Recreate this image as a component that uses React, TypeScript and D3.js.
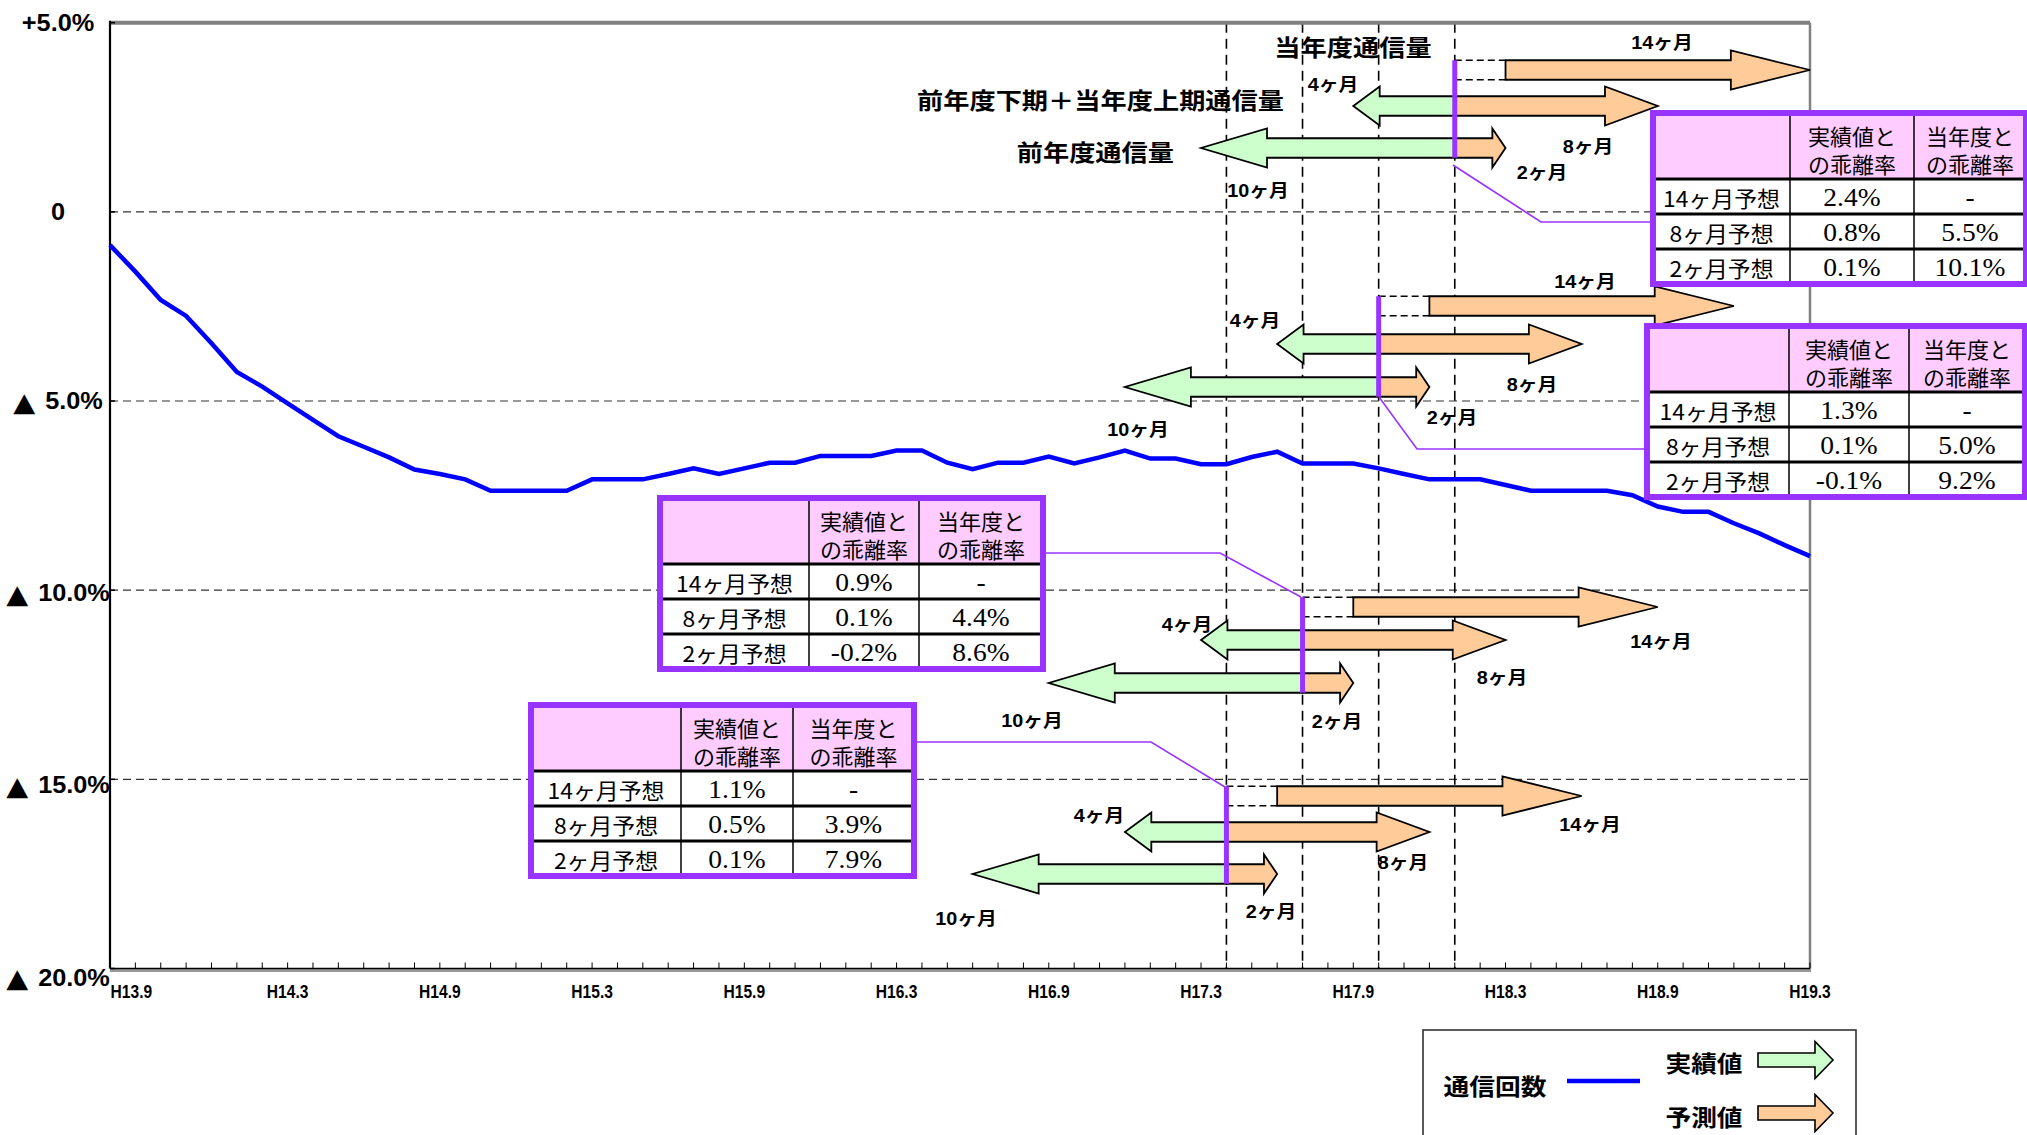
import React from "react";
import * as d3 from "d3";

const W = 2027;
const H = 1135;

// monthly series, index 0 = H13.8 ... index 67 = H19.3 (通信回数, % vs previous year)
const commValues = [
  -0.88, -1.58, -2.33, -2.75, -3.47, -4.23, -4.62, -5.06, -5.5, -5.93,
  -6.21, -6.49, -6.81, -6.93, -7.07, -7.37, -7.37, -7.37, -7.37, -7.07,
  -7.07, -7.07, -6.93, -6.78, -6.93, -6.78, -6.63, -6.63, -6.45, -6.45,
  -6.45, -6.31, -6.31, -6.63, -6.8, -6.63, -6.63, -6.47, -6.65, -6.49,
  -6.31, -6.52, -6.52, -6.67, -6.67, -6.48, -6.34, -6.65, -6.65, -6.65,
  -6.78, -6.93, -7.07, -7.07, -7.07, -7.22, -7.37, -7.37, -7.37, -7.37,
  -7.49, -7.79, -7.93, -7.93, -8.23, -8.5, -8.81, -9.1,
];

const xTickLabels = ["H13.9", "H14.3", "H14.9", "H15.3", "H15.9", "H16.3", "H16.9", "H17.3", "H17.9", "H18.3", "H18.9", "H19.3"];
const xTickIndex = [1, 7, 13, 19, 25, 31, 37, 43, 49, 55, 61, 67];
const yTicks = [5, 0, -5, -10, -15, -20];
const yTickMarks = ["", "", "▲", "▲", "▲", "▲"];
const yTickLabels = ["+5.0%", "0", "5.0%", "10.0%", "15.0%", "20.0%"];
const gridValues = [0, -5, -10, -15];

// forecast start months (index): H18.1, H17.10, H17.7, H17.4
const forecastStarts = [53, 50, 47, 44];
const fwdLong = 14;
const fwdLongDashed = 2;
const fwdMid = 8;
const fwdShort = 2;
const backMid = 4;
const backLong = 10;
const monthLabels = ["14ヶ月", "4ヶ月", "8ヶ月", "2ヶ月", "10ヶ月"];

const rowLabels = ["14ヶ月予想", "8ヶ月予想", "2ヶ月予想"];
const headLine1 = ["実績値と", "当年度と"];
const headLine2 = ["の乖離率", "の乖離率"];
const diffActual = [
  ["2.4%", "0.8%", "0.1%"],
  ["1.3%", "0.1%", "-0.1%"],
  ["0.9%", "0.1%", "-0.2%"],
  ["1.1%", "0.5%", "0.1%"],
];
const diffYear = [
  ["-", "5.5%", "10.1%"],
  ["-", "5.0%", "9.2%"],
  ["-", "4.4%", "8.6%"],
  ["-", "3.9%", "7.9%"],
];

const phraseLabels = ["当年度通信量", "前年度下期＋当年度上期通信量", "前年度通信量"];
const legendTitle = "通信回数";
const legendActual = "実績値";
const legendForecast = "予測値";

// ---- layout (pixels) ----
const groupRows = [
  [70, 106, 148],
  [306, 344, 387],
  [607, 640, 683],
  [796, 832, 874],
];
// label centers: 14, 4, 8, 2, 10
const groupLabelPos = [
  [[1662, 43], [1333, 85], [1588, 147], [1542, 173], [1258, 191]],
  [[1585, 282], [1255, 321], [1532, 385], [1452, 418], [1138, 430]],
  [[1661, 642], [1187, 625], [1502, 678], [1337, 722], [1032, 721]],
  [[1590, 825], [1099, 816], [1403, 863], [1271, 912], [966, 919]],
];
const tableLayout = [
  { x: 1653, y: 113, cols: [137, 124, 112] },
  { x: 1647, y: 326, cols: [142, 120, 116] },
  { x: 660, y: 498, cols: [149, 110, 124] },
  { x: 531, y: 705, cols: [150, 112, 121] },
];
const connectors = [
  [[1453, 165], [1541, 222], [1653, 222]],
  [[1379, 397], [1417, 449], [1647, 449]],
  [[1044, 553], [1220, 553], [1301, 597]],
  [[916, 742], [1151, 742], [1225, 787]],
];

const PURPLE = "#9933FF";
const GREEN = "#CCFFCC";
const ORANGE = "#FFCC99";
const PINK = "#FFCCFF";
const BLUE = "#0000FF";
const CJK = "'Noto Sans CJK JP', 'Liberation Sans', sans-serif";
const LAT = "'Liberation Sans', 'DejaVu Sans', 'Noto Sans CJK JP', sans-serif";
const SERIF = "'Liberation Serif', 'DejaVu Serif', serif";

function Txt(props: {
  x: number; y: number; children: any; size?: number; weight?: number | string;
  anchor?: string; sx?: number; family?: string; fill?: string;
}) {
  const { x, y, children, size = 22, weight = 700, anchor = "middle", sx = 1.12, family = CJK, fill = "#000" } = props;
  return (
    <text
      transform={`translate(${x},${y}) scale(${sx},1)`}
      fontSize={size}
      fontWeight={weight}
      textAnchor={anchor as any}
      dominantBaseline="central"
      fontFamily={family}
      fill={fill}
    >
      {children}
    </text>
  );
}

function arrowPath(x0: number, x1: number, cy: number, sh = 9.75, hh = 19.5, ratio = 0.26) {
  const dir = Math.sign(x1 - x0);
  const L = Math.abs(x1 - x0) * ratio;
  const xb = x1 - dir * L;
  const p = d3.path();
  p.moveTo(x0, cy - sh);
  p.lineTo(xb, cy - sh);
  p.lineTo(xb, cy - hh);
  p.lineTo(x1, cy);
  p.lineTo(xb, cy + hh);
  p.lineTo(xb, cy + sh);
  p.lineTo(x0, cy + sh);
  p.closePath();
  return p.toString();
}

function Table({ ti }: { ti: number }) {
  const L = tableLayout[ti];
  const headH = 66;
  const rowH = 35;
  const totalW = L.cols[0] + L.cols[1] + L.cols[2];
  const totalH = headH + rowH * 3;
  const cx = [L.x, L.x + L.cols[0], L.x + L.cols[0] + L.cols[1], L.x + totalW];
  const centers = [0, 1, 2].map((c) => (cx[c] + cx[c + 1]) / 2);
  return (
    <g>
      <rect x={L.x} y={L.y} width={totalW} height={totalH} fill="#fff" />
      <rect x={L.x} y={L.y} width={totalW} height={headH} fill={PINK} />
      {[1, 2].map((c) => (
        <line key={c} x1={cx[c]} x2={cx[c]} y1={L.y} y2={L.y + totalH} stroke="#000" strokeWidth={1.5} />
      ))}
      {[0, 1, 2].map((r) => (
        <line key={r} x1={L.x} x2={L.x + totalW} y1={L.y + headH + r * rowH} y2={L.y + headH + r * rowH} stroke="#000" strokeWidth={3} />
      ))}
      {[0, 1].map((c) => (
        <g key={c}>
          <Txt x={centers[c + 1]} y={L.y + 22} size={22} weight={400} sx={1.0}>{headLine1[c]}</Txt>
          <Txt x={centers[c + 1]} y={L.y + 50} size={22} weight={400} sx={1.0}>{headLine2[c]}</Txt>
        </g>
      ))}
      {rowLabels.map((lab, r) => {
        const cy = L.y + headH + r * rowH + rowH / 2 + 1;
        return (
          <g key={r}>
            <Txt x={centers[0]} y={cy} size={22} weight={400} sx={1.04}>{lab}</Txt>
            <Txt x={centers[1]} y={cy} size={25} weight={400} sx={1.1} family={SERIF}>{diffActual[ti][r]}</Txt>
            <Txt x={centers[2]} y={cy} size={25} weight={400} sx={1.1} family={SERIF}>{diffYear[ti][r]}</Txt>
          </g>
        );
      })}
      <rect x={L.x} y={L.y} width={totalW} height={totalH} fill="none" stroke={PURPLE} strokeWidth={6} />
    </g>
  );
}

export default function App() {
  const x = d3.scaleLinear().domain([0, commValues.length - 1]).range([110, 1810]);
  const y = d3.scaleLinear().domain([5, -20]).range([22.7, 968.5]);
  const line = d3.line<number>().x((_, i) => x(i)).y((d) => y(d));
  const top = y(5);
  const bottom = y(-20);
  const left = x(0);
  const right = x(commValues.length - 1);

  return (
    <svg width={W} height={H} style={{ position: "fixed", left: 0, top: 0, background: "#fff" }}>
      <rect x={0} y={0} width={W} height={H} fill="#fff" />
      {/* grid */}
      {gridValues.map((v) => (
        <line key={v} x1={left} x2={right} y1={y(v)} y2={y(v)} stroke="#333" strokeWidth={1.2} strokeDasharray="8,5" />
      ))}
      {forecastStarts.map((m) => (
        <line key={m} x1={x(m)} x2={x(m)} y1={top} y2={bottom} stroke="#000" strokeWidth={1.6} strokeDasharray="10,6" />
      ))}
      {/* frame */}
      <line x1={left} x2={right} y1={top} y2={top} stroke="#808080" strokeWidth={4} />
      <line x1={right} x2={right} y1={top} y2={bottom} stroke="#808080" strokeWidth={2.5} />
      <line x1={left} x2={right + 1} y1={bottom + 1.5} y2={bottom + 1.5} stroke="#999" strokeWidth={4} />
      <line x1={left} x2={right} y1={bottom} y2={bottom} stroke="#000" strokeWidth={1.5} />
      <line x1={left} x2={left} y1={top - 2} y2={bottom} stroke="#000" strokeWidth={2.2} />
      {commValues.map((_, i) => (
        <line key={i} x1={x(i)} x2={x(i)} y1={bottom} y2={bottom - 6} stroke="#000" strokeWidth={1} />
      ))}
      {yTicks.map((v) => (
        <line key={v} x1={left} x2={left + 5} y1={y(v)} y2={y(v)} stroke="#000" strokeWidth={1.5} />
      ))}
      {/* y labels */}
      {yTicks.map((v, i) => (
        <Txt key={v} x={58} y={y(v) + (i > 2 ? (i - 2) * 3 : 0)} size={23} sx={1.1} family={LAT}>
          {yTickMarks[i] ? <tspan fontSize={26} fontFamily="'DejaVu Sans', sans-serif">{yTickMarks[i] + " "}</tspan> : null}
          {yTickLabels[i]}
        </Txt>
      ))}
      {/* x labels */}
      {xTickLabels.map((lab, i) => (
        <Txt key={lab} x={x(xTickIndex[i]) - (i === 0 ? 4 : 0)} y={991} size={19} sx={0.82} family={LAT}>{lab}</Txt>
      ))}
      {/* series */}
      <path d={line(commValues) || ""} fill="none" stroke={BLUE} strokeWidth={4.5} strokeLinejoin="miter" />

      {/* forecast arrow groups */}
      {forecastStarts.map((m, gi) => {
        const [r14, rMid, rBot] = groupRows[gi];
        const v = x(m);
        const sh = 9.75;
        const lp = groupLabelPos[gi];
        return (
          <g key={m}>
            <line x1={v} x2={x(m + fwdLongDashed)} y1={r14 - sh} y2={r14 - sh} stroke="#000" strokeWidth={1.6} strokeDasharray="7,4" />
            <line x1={v} x2={x(m + fwdLongDashed)} y1={r14 + sh} y2={r14 + sh} stroke="#000" strokeWidth={1.6} strokeDasharray="7,4" />
            <path d={arrowPath(x(m + fwdLongDashed), x(m + fwdLong), r14)} fill={ORANGE} stroke="#000" strokeWidth={1.8} />
            <path d={arrowPath(v, x(m - backMid), rMid)} fill={GREEN} stroke="#000" strokeWidth={1.8} />
            <path d={arrowPath(v, x(m + fwdMid), rMid)} fill={ORANGE} stroke="#000" strokeWidth={1.8} />
            <path d={arrowPath(v, x(m - backLong), rBot)} fill={GREEN} stroke="#000" strokeWidth={1.8} />
            <path d={arrowPath(v, x(m + fwdShort), rBot)} fill={ORANGE} stroke="#000" strokeWidth={1.8} />
            <line x1={v} x2={v} y1={r14 - sh} y2={rBot + sh} stroke={PURPLE} strokeWidth={5} />
            {monthLabels.map((t, k) => (
              <Txt key={k} x={lp[k][0]} y={lp[k][1]} size={18} sx={1.1} family={LAT}>{t}</Txt>
            ))}
            <path d={d3.line()(connectors[gi] as [number, number][]) || ""} fill="none" stroke={PURPLE} strokeWidth={1.6} />
          </g>
        );
      })}

      {/* phrase labels */}
      <Txt x={1353} y={46} size={23} sx={1.14}>{phraseLabels[0]}</Txt>
      <Txt x={1284} y={99} size={23} sx={1.14} anchor="end">{phraseLabels[1]}</Txt>
      <Txt x={1174} y={151} size={23} sx={1.14} anchor="end">{phraseLabels[2]}</Txt>

      {/* tables */}
      {tableLayout.map((_, ti) => (
        <Table key={ti} ti={ti} />
      ))}

      {/* legend */}
      <rect x={1423} y={1030} width={433} height={140} fill="#fff" stroke="#333" strokeWidth={1.6} />
      <Txt x={1495} y={1085} size={23} sx={1.12}>{legendTitle}</Txt>
      <line x1={1567} x2={1640} y1={1081} y2={1081} stroke={BLUE} strokeWidth={4.5} />
      <Txt x={1704} y={1062} size={23} sx={1.12}>{legendActual}</Txt>
      <Txt x={1704} y={1116} size={23} sx={1.12}>{legendForecast}</Txt>
      <path d={arrowPath(1758, 1833, 1060, 7, 18.5, 0.24)} fill={GREEN} stroke="#000" strokeWidth={1.6} />
      <path d={arrowPath(1758, 1833, 1113, 7, 18.5, 0.24)} fill={ORANGE} stroke="#000" strokeWidth={1.6} />
    </svg>
  );
}
